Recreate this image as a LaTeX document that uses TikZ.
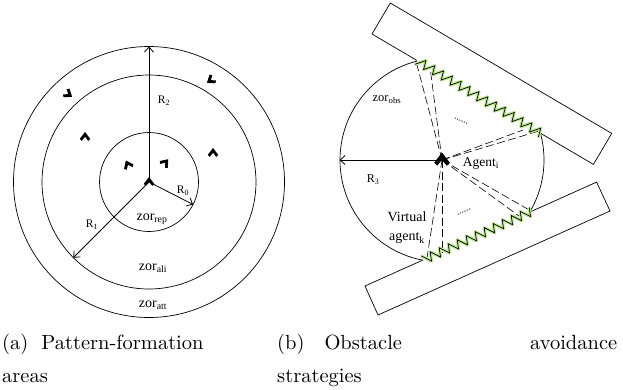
\documentclass[tikz,border=0pt]{standalone}
\usepackage{fontspec}
\newfontfamily\lab{Liberation Serif}
\newfontfamily\capfont{lmroman10-regular.otf}
\usetikzlibrary{arrows.meta,calc}
\newcommand{\zigspring}[5]{% #1 start, #2 end, #3 teeth, #4 outward half-amplitude vector, #5 style
  \draw[#5] ($(#1)-(#4)$)
    \foreach \i [evaluate=\i as \pa using (\i-0.25)/#3, evaluate=\i as \pb using \i/#3] in {1,...,#3}
      { -- ($(#1)!\pa!(#2)+(#4)$) -- ($(#1)!\pb!(#2)-(#4)$) };
}
\begin{document}
\begin{tikzpicture}[x=1pt,y=-1pt,
  thinline/.style={line width=0.7pt},
  radarrow/.style={line width=0.8pt,-{Straight Barb[length=5pt,width=9pt]}},
  lbl/.style={font=\lab\fontsize{11.5}{13}\selectfont, inner sep=0pt},
  zlbl/.style={font=\lab\fontsize{14}{16}\selectfont, inner sep=0pt},
  obst/.style={draw,line width=0.7pt,fill=white},
  vline/.style={line width=0.6pt,dash pattern=on 8pt off 3.5pt},
  capt/.style={font=\capfont\fontsize{20.5}{33}\selectfont, inner sep=0pt, anchor=base west},
  springg/.style={line width=3.2pt,draw={rgb,255:red,190;green,232;blue,150},line join=round},
  springk/.style={line width=0.7pt,draw=black},
  chev/.pic={\fill[black] (0pt,5pt) -- (5.2pt,-1.8pt) -- (3.2pt,-3.8pt) -- (0pt,0.2pt) -- (-3.2pt,-3.8pt) -- (-5.2pt,-1.8pt) -- cycle;}
]
\useasboundingbox (0,0) rectangle (623,389);

% ---------------- (a) pattern formation areas ----------------
\coordinate (cL) at (149,182);
\draw[thinline] (cL) circle[radius=49.5pt];
\draw[thinline] (cL) circle[radius=107pt];
\draw[thinline] (cL) circle[radius=135.5pt];
\coordinate (r2end) at (149,46.5);
\coordinate (r1end) at (73.3,257.7);
\coordinate (r0end) at (193.1,204.5);
\draw[radarrow] (cL) -- (r2end);
\draw[radarrow] (cL) -- (r1end);
\draw[radarrow] (cL) -- (r0end);
\pic (a0) at (cL) {chev};
\pic[rotate=25] (a1) at (128,165) {chev};
\pic[rotate=-40] (a2) at (165,163) {chev};
\pic (a3) at (85,137) {chev};
\pic (a4) at (213,153) {chev};
\pic[rotate=-125] (a5) at (68,94) {chev};
\pic[rotate=125] (a6) at (211,80) {chev};
\node[lbl] (lR2) at (164,101) {R\textsubscript{2}};
\node[lbl] (lR0) at (183,191) {R\textsubscript{0}};
\node[lbl] (lR1) at (92,225) {R\textsubscript{1}};
\node[zlbl] (zrep) at (152,219) {zor\textsubscript{rep}};
\node[zlbl] (zali) at (153,268) {zor\textsubscript{ali}};
\node[zlbl] (zatt) at (153,305) {zor\textsubscript{att}};

% ---------------- (b) obstacle avoidance ----------------
\coordinate (cR) at (442,160);
\draw[thinline] (cR) circle[radius=102pt];
\draw[obst] (390.3,3) -- (372,34) -- (593.4,164.4) -- (611.7,133.4) -- cycle;
\draw[obst] (365,286) -- (378,315) -- (610,211) -- (596.6,182.1) -- cycle;

\coordinate (s1) at (417,60.5);
\coordinate (s2) at (540.7,133.3);
\coordinate (s3) at (423,260);
\coordinate (s4) at (531,211.5);
\draw[white,line width=1.6pt] (s1) -- (s2);
\draw[white,line width=1.6pt] (s3) -- (s4);

% virtual-agent sight lines
\coordinate (v1) at (417,65);
\coordinate (v2) at (430,67);
\coordinate (v3) at (523,130);
\coordinate (v4) at (539,131);
\coordinate (v5) at (427,258);
\coordinate (v6) at (442,253);
\coordinate (v7) at (519,216);
\coordinate (v8) at (531,211);
\foreach \v in {v1,v2,v3,v4,v5,v6,v7,v8} \draw[vline] (cR) -- (\v);

\zigspring{s1}{s2}{14}{2.3,-3.9}{springg}
\zigspring{s1}{s2}{14}{2.3,-3.9}{springk}
\zigspring{s3}{s4}{12}{1.8,4.1}{springg}
\zigspring{s3}{s4}{12}{1.8,4.1}{springk}

\coordinate (r3end) at (339.5,160);
\draw[radarrow] (cR) -- (r3end);
\pic[scale=1.5] (agi) at (cR) {chev};

\node[lbl,rotate=-27,font=\lab\fontsize{10}{12}\selectfont] (dots1) at (461,121) {......};
\node[lbl,rotate=24,font=\lab\fontsize{10}{12}\selectfont] (dots2) at (464,212) {......};
\node[lbl,font=\lab\fontsize{12.5}{14}\selectfont] (zobs) at (387,100) {zor\textsubscript{obs}};
\node[lbl,font=\lab\fontsize{12}{14}\selectfont] (lR3) at (373,180) {R\textsubscript{3}};
\node[zlbl,font=\lab\fontsize{13.5}{16}\selectfont] (agl) at (481,163) {Agent\textsubscript{i}};
\node[zlbl,align=center,font=\lab\fontsize{14}{19}\selectfont] (virt) at (407,228) {Virtual\\agent\textsubscript{k}};

% ---------------- captions ----------------
\node[capt] (capa1) at (2,349) {(a)\hspace{13pt}Pattern-formation};
\node[capt] (capa2) at (2,382) {areas};
\node[capt] (capb1) at (277,349) {\hbox to 340pt{(b)\hspace{20pt}Obstacle\hfill avoidance}};
\node[capt] (capb2) at (277,382) {strategies};
\end{tikzpicture}
\end{document}
